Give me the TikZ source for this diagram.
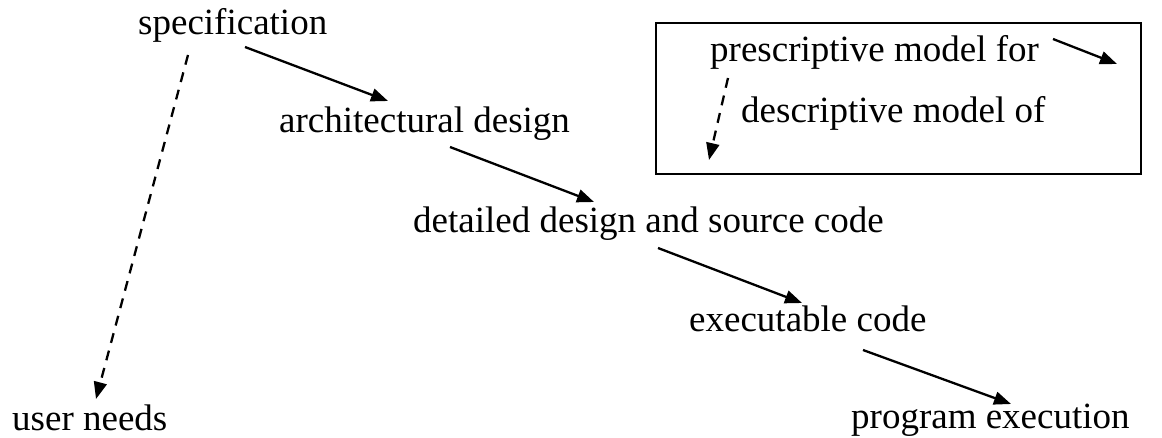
\documentclass[tikz,border=0pt]{standalone}
\usepackage{fontspec}
\setmainfont{Liberation Serif}
\usetikzlibrary{arrows.meta}
\begin{document}
\begin{tikzpicture}[x=1pt,y=-1pt,
  lbl/.style={anchor=base west,inner sep=0pt,font=\fontsize{37}{40}\selectfont},
  solidarrow/.style={line width=2.3pt,-{Triangle[length=17pt,width=13pt]}},
  dasharrow/.style={line width=2.3pt,dash pattern=on 10pt off 8pt,-{Triangle[length=17pt,width=13pt]}}]
\useasboundingbox (0,0) rectangle (1162,438);
\node[lbl] (spec) at (138,35) {specification};
\node[lbl] (arch) at (279,133) {architectural design};
\node[lbl] (det) at (413,233) {detailed design and source code};
\node[lbl] (exe) at (689,331) {executable code};
\node[lbl] (user) at (12,430) {user needs};
\node[lbl] (prog) at (851,428) {program execution};
\node[draw,line width=2.3pt,minimum width=485pt,minimum height=151pt,inner sep=0pt,anchor=north west] (legend) at (655,22) {};
\node[lbl] (pres) at (710,62) {prescriptive model for};
\node[lbl] (desc) at (741,123) {descriptive model of};
% arrow end points
\coordinate (a1) at (245,47);  \coordinate (a2) at (388,101);
\coordinate (b1) at (450,147); \coordinate (b2) at (594,202);
\coordinate (c1) at (658,248); \coordinate (c2) at (802,303);
\coordinate (d1) at (863,350); \coordinate (d2) at (1011,404);
\coordinate (u1) at (188,55);  \coordinate (u2) at (96,399);
\coordinate (p1) at (1053,39); \coordinate (p2) at (1117,64);
\coordinate (q1) at (728,78);  \coordinate (q2) at (709,160);
\draw[solidarrow] (a1) -- (a2);
\draw[solidarrow] (b1) -- (b2);
\draw[solidarrow] (c1) -- (c2);
\draw[solidarrow] (d1) -- (d2);
\draw[dasharrow] (u1) -- (u2);
\draw[solidarrow] (p1) -- (p2);
\draw[dasharrow] (q1) -- (q2);
\end{tikzpicture}
\end{document}
